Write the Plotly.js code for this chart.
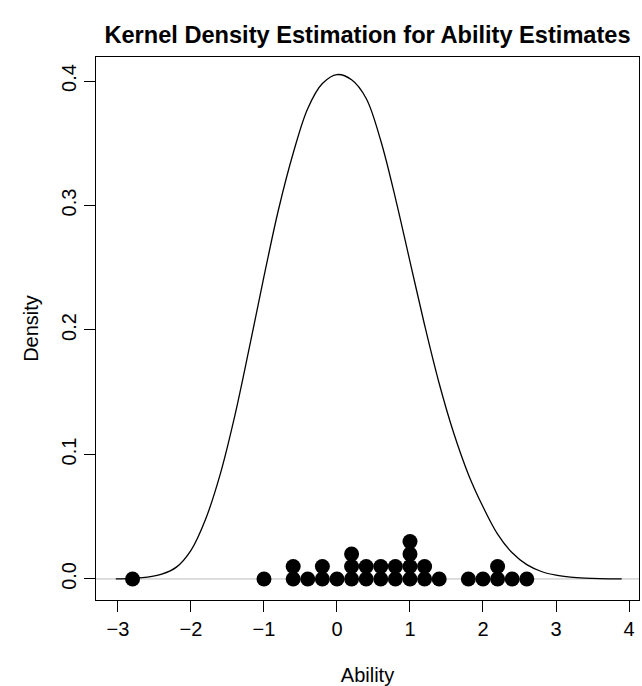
<!DOCTYPE html>
<html>
<head>
<meta charset="utf-8">
<script src="https://cdn.plot.ly/plotly-3.0.1.min.js"></script>
<style>html,body{margin:0;padding:0;background:#fff;}#chart{width:642px;height:686px;}</style>
</head>
<body>
<div id="chart"></div>
<script>
// Density curve
var densityX = [-3.03, -2.8, -2.6, -2.4, -2.2, -2.0, -1.8, -1.6, -1.4, -1.2, -1.0, -0.8, -0.6, -0.4, -0.2, 0.0, 0.2, 0.4, 0.6, 0.8, 1.0, 1.2, 1.4, 1.6, 1.8, 2.0, 2.2, 2.4, 2.6, 2.8, 3.0, 3.2, 3.4, 3.6, 3.9];
var densityY = [0.0000, 0.0005, 0.0014, 0.0038, 0.0095, 0.023, 0.048, 0.084, 0.131, 0.186, 0.243, 0.297, 0.342, 0.378, 0.398, 0.4052, 0.401, 0.386, 0.352, 0.306, 0.255, 0.204, 0.157, 0.117, 0.084, 0.058, 0.036, 0.021, 0.0115, 0.006, 0.003, 0.0014, 0.0006, 0.0002, 0.0000];

// Stacked dots (ability estimates)
var dotX = [-2.8, -1.0, -0.6, -0.6, -0.4, -0.2, -0.2, 0.0, 0.2, 0.2, 0.2, 0.4, 0.4, 0.6, 0.6, 0.8, 0.8, 1.0, 1.0, 1.0, 1.0, 1.2, 1.2, 1.4, 1.8, 2.0, 2.2, 2.2, 2.4, 2.6];
var dotY = [0, 0, 0, 0.01, 0, 0, 0.01, 0, 0, 0.01, 0.02, 0, 0.01, 0, 0.01, 0, 0.01, 0, 0.01, 0.02, 0.03, 0, 0.01, 0, 0, 0, 0, 0.01, 0, 0];

var xTicks = [-3, -2, -1, 0, 1, 2, 3, 4];
var xTickText = ['\u22123', '\u22122', '\u22121', '0', '1', '2', '3', '4'];
var yTicks = [0, 0.1, 0.2, 0.3, 0.4];
var yTickText = ['0.0', '0.1', '0.2', '0.3', '0.4'];

var font = 'Liberation Sans, Arial, Helvetica, sans-serif';

var traces = [
  {x: densityX, y: densityY, type: 'scatter', mode: 'lines',
   line: {color: '#000', width: 1.3, shape: 'spline', smoothing: 1}, hoverinfo: 'skip'},
  {x: dotX, y: dotY, type: 'scatter', mode: 'markers',
   marker: {color: '#000', size: 15, line: {width: 0}}, hoverinfo: 'skip'}
];

var layout = {
  width: 642, height: 686,
  margin: {l: 96, r: 3, t: 57, b: 86},
  paper_bgcolor: '#fff', plot_bgcolor: '#fff',
  showlegend: false,
  font: {family: font, color: '#000', size: 20},
  title: {text: '<b>Kernel Density Estimation for Ability Estimates</b>',
          font: {family: font, size: 23.6, color: '#000'},
          x: 0.5, xref: 'paper', xanchor: 'center', y: 1 - 35/686, yanchor: 'middle'},
  xaxis: {range: [-3.301, 4.137], tickvals: xTicks, ticktext: xTickText,
          showgrid: false, zeroline: false, showline: true, mirror: true,
          linecolor: '#000', linewidth: 1, ticks: 'outside', ticklen: 11, tickwidth: 1, tickcolor: '#000',
          tickfont: {family: font, size: 20}, fixedrange: true,
          title: {text: 'Ability', font: {family: font, size: 20}, standoff: 29}},
  yaxis: {range: [-0.0169, 0.4193], tickvals: yTicks, ticktext: yTickText,
          showgrid: false, zeroline: false, showline: true, mirror: true,
          linecolor: '#000', linewidth: 1, ticks: 'outside', ticklen: 11, tickwidth: 1, tickcolor: '#000',
          tickangle: -90, tickfont: {family: font, size: 20}, fixedrange: true,
          title: {text: 'Density', font: {family: font, size: 20}, standoff: 14}},
  shapes: [{type: 'line', xref: 'paper', x0: 0, x1: 1, yref: 'y', y0: 0, y1: 0,
            line: {color: '#bebebe', width: 1}, layer: 'below'}]
};

Plotly.newPlot('chart', traces, layout, {displayModeBar: false, staticPlot: true});
</script>
</body>
</html>
